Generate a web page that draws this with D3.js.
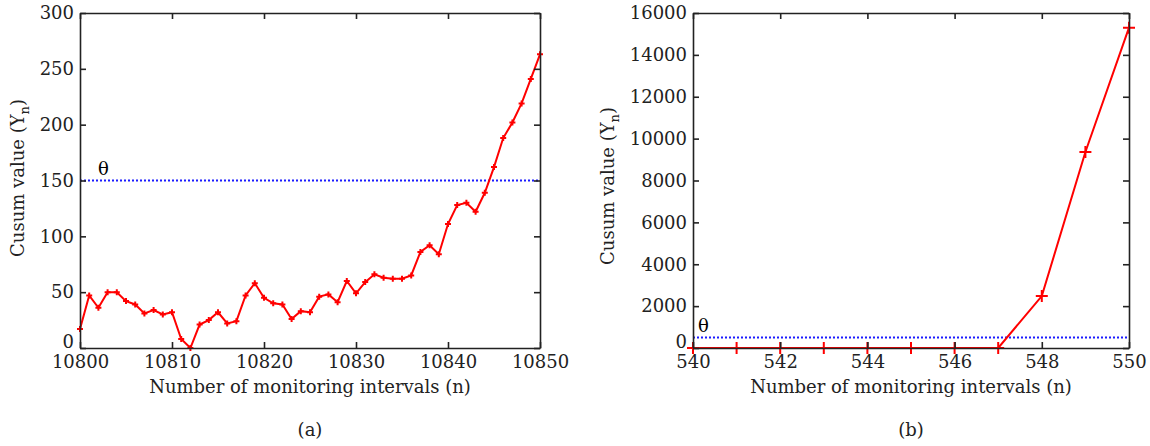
<!DOCTYPE html>
<html>
<head>
<meta charset="utf-8">
<script src="https://cdn.jsdelivr.net/npm/d3@7"></script>
<style>
  body { margin: 0; background: #fff; }
</style>
</head>
<body>
<svg id="chart" width="1150" height="446"></svg>
<script>
// panel (a): cusum over intervals 10800..10850
var nA = d3.range(10800, 10851);
var yA = [17, 47, 36, 50, 50, 42, 39, 31, 34, 30,
          32, 8, 0, 21, 25, 32, 22, 24, 47, 58,
          45, 40, 39, 26, 33, 32, 46, 48, 41, 60,
          49, 59, 66, 63, 62, 62, 65, 86, 92, 84,
          111, 128, 130, 122, 139, 162, 188, 202, 219, 241, 263];
var thetaA = 150;
var xTicksA = [10800, 10810, 10820, 10830, 10840, 10850];
var yTicksA = [0, 50, 100, 150, 200, 250, 300];

// panel (b): cusum over intervals 540..550
var nB = d3.range(540, 551);
var yB = [0, 0, 0, 0, 0, 0, 0, 0, 2480, 9360, 15300];
var thetaB = 500;
var xTicksB = [540, 542, 544, 546, 548, 550];
var yTicksB = [0, 2000, 4000, 6000, 8000, 10000, 12000, 14000, 16000];

var xTitle = "Number of monitoring intervals (n)";
var FONT = "'DejaVu Serif', serif";
var FS = 18;

var svg = d3.select("#chart");

function panel(opt) {
  var g = svg.append("g");
  var x = d3.scaleLinear().domain(opt.xDomain).range([opt.left, opt.right]);
  var y = d3.scaleLinear().domain(opt.yDomain).range([opt.bottom, opt.top]);

  // threshold line
  g.append("line")
    .attr("x1", x(opt.xDomain[0])).attr("x2", x(opt.xDomain[1]))
    .attr("y1", y(opt.theta)).attr("y2", y(opt.theta))
    .attr("stroke", "#1a1aff").attr("stroke-width", 2)
    .attr("stroke-dasharray", "2,2");
  g.append("text")
    .attr("x", x(opt.xDomain[0]) + opt.thetaDx)
    .attr("y", y(opt.theta) - 6)
    .attr("font-size", FS)
    .style("font-family", FONT)
    .text("\u03b8");

  // data line
  var line = d3.line().x(function(d, i) { return x(opt.xs[i]); }).y(function(d) { return y(d); });
  g.append("path")
    .datum(opt.ys)
    .attr("d", line)
    .attr("fill", "none")
    .attr("stroke", "#ff0000")
    .attr("stroke-width", 2);

  var s = opt.mark;
  g.selectAll(".mk")
    .data(opt.ys)
    .enter().append("path")
    .attr("class", "mk")
    .attr("transform", function(d, i) { return "translate(" + x(opt.xs[i]) + "," + y(d) + ")"; })
    .attr("d", "M" + (-s) + ",0H" + s + "M0," + (-s) + "V" + s)
    .attr("stroke", "#ff0000")
    .attr("stroke-width", 2);

  // axes with inward ticks, mirrored
  var tk = 6;
  var ax = [
    g.append("g").attr("transform", "translate(0," + opt.bottom + ")")
      .call(d3.axisBottom(x).tickValues(opt.xTicks).tickSizeInner(-tk).tickSizeOuter(0).tickPadding(7).tickFormat(d3.format("d"))),
    g.append("g").attr("transform", "translate(" + opt.left + ",0)")
      .call(d3.axisLeft(y).tickValues(opt.yTicks).tickSizeInner(-tk).tickSizeOuter(0).tickPadding(6).tickFormat(d3.format("d"))),
    g.append("g").attr("transform", "translate(0," + opt.top + ")")
      .call(d3.axisTop(x).tickValues(opt.xTicks).tickSizeInner(-tk).tickSizeOuter(0).tickFormat("")),
    g.append("g").attr("transform", "translate(" + opt.right + ",0)")
      .call(d3.axisRight(y).tickValues(opt.yTicks).tickSizeInner(-tk).tickSizeOuter(0).tickFormat(""))
  ];
  ax.forEach(function(a) {
    a.selectAll(".domain").attr("stroke", "#222").attr("stroke-width", 1.6);
    a.selectAll(".tick line").attr("stroke", "#222").attr("stroke-width", 1.6);
    a.selectAll("text").attr("font-size", FS).attr("fill", "#222")
      .style("font-family", FONT);
  });
  // lift the "0" label a little so it clears the first x label
  ax[1].selectAll(".tick text").filter(function(d) { return d === 0; }).attr("y", -6);

  // titles
  var cx = (opt.left + opt.right) / 2;
  g.append("text")
    .attr("x", cx).attr("y", 393)
    .attr("text-anchor", "middle").attr("font-size", FS)
    .attr("fill", "#222")
    .style("font-family", FONT)
    .text(xTitle);
  g.append("text")
    .attr("x", cx).attr("y", 436)
    .attr("text-anchor", "middle").attr("font-size", FS)
    .attr("fill", "#222")
    .style("font-family", FONT)
    .text(opt.label);

  var yt = g.append("text")
    .attr("transform", "translate(" + opt.yTitleX + "," + opt.yTitleY + ") rotate(-90)")
    .attr("text-anchor", "middle").attr("font-size", FS)
    .attr("fill", "#222")
    .style("font-family", FONT);
  yt.append("tspan").text("Cusum value (Y");
  yt.append("tspan").attr("font-size", 13).attr("dy", 5).text("n");
  yt.append("tspan").attr("dy", -5).text(")");
}

panel({
  xs: nA, ys: yA, theta: thetaA, xTicks: xTicksA, yTicks: yTicksA,
  xDomain: [10800, 10850], yDomain: [0, 300],
  left: 80, right: 540, top: 13, bottom: 348,
  mark: 3, thetaDx: 18, label: "(a)", yTitleX: 24, yTitleY: 178
});

panel({
  xs: nB, ys: yB, theta: thetaB, xTicks: xTicksB, yTicks: yTicksB,
  xDomain: [540, 550], yDomain: [0, 16000],
  left: 693, right: 1129, top: 13, bottom: 348,
  mark: 6, thetaDx: 5, label: "(b)", yTitleX: 614, yTitleY: 186
});
</script>
</body>
</html>
